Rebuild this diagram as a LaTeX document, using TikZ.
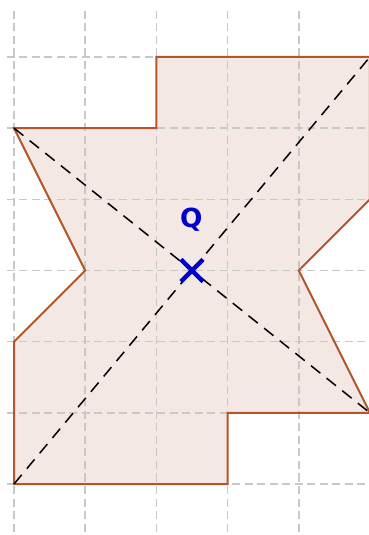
\documentclass[tikz,border=0pt]{standalone}
\usepackage{fontspec}
\setsansfont{DejaVu Sans}
\usetikzlibrary{calc}
\definecolor{gridgray}{RGB}{200,200,200}
\definecolor{figfill}{RGB}{244,232,228}
\definecolor{figline}{RGB}{181,86,42}
\definecolor{ptblue}{RGB}{0,0,204}
\begin{document}
\begin{tikzpicture}[
  gridline/.style={gridgray, line width=0.6pt, dash pattern=on 3.2pt off 1.8pt},
  figure/.style={figline, line width=0.8pt, line join=miter},
  diag/.style={black, line width=0.6pt, dash pattern=on 4.8pt off 3.2pt},
  cross/.style={ptblue, line width=1.8pt}
]
\useasboundingbox (-0.197,-0.716) rectangle (4.986,6.80);
% shape
\def\shape{(2,6) -- (5,6) -- (5,4) -- (4,3) -- (5,1) -- (3,1) -- (3,0)
  -- (0,0) -- (0,2) -- (1,3) -- (0,5) -- (2,5) -- cycle}
\fill [figfill] \shape;
% grid
\foreach \x in {0,...,5}
  \draw [gridline] (\x,6.65) -- (\x,-0.75);
\foreach \y in {0,...,6}
  \draw [gridline] (-0.1,\y) -- (5.1,\y);
\draw [figure] \shape;
% diagonals
\coordinate (a) at (0,5);
\coordinate (b) at (5,1);
\coordinate (c) at (0,0);
\coordinate (d) at (5,6);
\draw [diag] (a) -- (b);
\draw [diag] (c) -- (d);
% point Q
\coordinate (q) at (2.5,3);
\draw [cross] ($(q)+(-0.155,-0.155)$) -- ($(q)+(0.155,0.155)$);
\draw [cross] ($(q)+(-0.155,0.155)$) -- ($(q)+(0.155,-0.155)$);
\node [ptblue, font=\sffamily\bfseries\fontsize{10.5}{12}\selectfont] (qlabel) at (2.49,3.72) {Q};
\end{tikzpicture}
\end{document}
